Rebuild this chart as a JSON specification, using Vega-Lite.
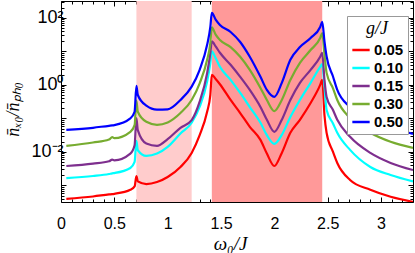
{
  "$schema": "https://vega.github.io/schema/vega-lite/v6.json",
  "width": 352,
  "height": 201,
  "autosize": "none",
  "padding": {"left": 61, "top": 1, "right": 2, "bottom": 51},
  "datasets": {
    "bands": [
      {"x0": 0.707, "x1": 1.225, "band": "light"},
      {"x0": 1.414, "x1": 2.449, "band": "dark"}
    ],
    "curves": [
      {"g":"0.05","x":0.05,"y":0.000398},{"g":"0.05","x":0.3,"y":0.000468},{"g":"0.05","x":0.45,"y":0.000537},{"g":"0.05","x":0.48,"y":0.00055},{"g":"0.05","x":0.5,"y":0.000562},{"g":"0.05","x":0.65,"y":0.000741},{"g":"0.05","x":0.69,"y":0.000933},{"g":"0.05","x":0.707,"y":0.00191},{"g":"0.05","x":0.72,"y":0.00132},{"g":"0.05","x":0.8,"y":0.0011},{"g":"0.05","x":0.9,"y":0.00126},{"g":"0.05","x":1.0,"y":0.00178},{"g":"0.05","x":1.12,"y":0.00355},{"g":"0.05","x":1.225,"y":0.00933},{"g":"0.05","x":1.3,"y":0.0316},{"g":"0.05","x":1.37,"y":0.158},{"g":"0.05","x":1.4,"y":0.501},{"g":"0.05","x":1.414,"y":2.0},{"g":"0.05","x":1.45,"y":1.51},{"g":"0.05","x":1.49,"y":1.05},{"g":"0.05","x":1.59,"y":0.355},{"g":"0.05","x":1.68,"y":0.145},{"g":"0.05","x":1.77,"y":0.0562},{"g":"0.05","x":1.87,"y":0.0229},{"g":"0.05","x":1.93,"y":0.00891},{"g":"0.05","x":2.0,"y":0.0038},{"g":"0.05","x":2.07,"y":0.00933},{"g":"0.05","x":2.15,"y":0.0372},{"g":"0.05","x":2.24,"y":0.0912},{"g":"0.05","x":2.34,"y":0.288},{"g":"0.05","x":2.43,"y":1.0},{"g":"0.05","x":2.449,"y":1.41},{"g":"0.05","x":2.47,"y":0.126},{"g":"0.05","x":2.49,"y":0.0372},{"g":"0.05","x":2.55,"y":0.01},{"g":"0.05","x":2.59,"y":0.00468},{"g":"0.05","x":2.71,"y":0.00145},{"g":"0.05","x":2.9,"y":0.000741},{"g":"0.05","x":3.09,"y":0.000457},{"g":"0.05","x":3.3,"y":0.000324},
      {"g":"0.10","x":0.05,"y":0.00166},{"g":"0.10","x":0.3,"y":0.00191},{"g":"0.10","x":0.45,"y":0.00219},{"g":"0.10","x":0.48,"y":0.00229},{"g":"0.10","x":0.5,"y":0.00234},{"g":"0.10","x":0.65,"y":0.00331},{"g":"0.10","x":0.69,"y":0.00501},{"g":"0.10","x":0.707,"y":0.0214},{"g":"0.10","x":0.72,"y":0.0112},{"g":"0.10","x":0.8,"y":0.00759},{"g":"0.10","x":0.9,"y":0.00891},{"g":"0.10","x":1.0,"y":0.0141},{"g":"0.10","x":1.12,"y":0.0355},{"g":"0.10","x":1.225,"y":0.0741},{"g":"0.10","x":1.3,"y":0.224},{"g":"0.10","x":1.37,"y":1.26},{"g":"0.10","x":1.4,"y":4.47},{"g":"0.10","x":1.414,"y":10.0},{"g":"0.10","x":1.45,"y":6.31},{"g":"0.10","x":1.49,"y":3.47},{"g":"0.10","x":1.59,"y":1.41},{"g":"0.10","x":1.68,"y":0.575},{"g":"0.10","x":1.77,"y":0.219},{"g":"0.10","x":1.87,"y":0.0741},{"g":"0.10","x":1.93,"y":0.0316},{"g":"0.10","x":2.0,"y":0.0174},{"g":"0.10","x":2.07,"y":0.0324},{"g":"0.10","x":2.15,"y":0.11},{"g":"0.10","x":2.24,"y":0.355},{"g":"0.10","x":2.34,"y":1.15},{"g":"0.10","x":2.43,"y":3.47},{"g":"0.10","x":2.449,"y":4.17},{"g":"0.10","x":2.47,"y":0.891},{"g":"0.10","x":2.49,"y":0.178},{"g":"0.10","x":2.55,"y":0.0708},{"g":"0.10","x":2.59,"y":0.0372},{"g":"0.10","x":2.71,"y":0.0115},{"g":"0.10","x":2.9,"y":0.00355},{"g":"0.10","x":3.09,"y":0.00204},{"g":"0.10","x":3.3,"y":0.00132},
      {"g":"0.15","x":0.05,"y":0.0038},{"g":"0.15","x":0.3,"y":0.00447},{"g":"0.15","x":0.45,"y":0.00525},{"g":"0.15","x":0.48,"y":0.00589},{"g":"0.15","x":0.5,"y":0.00562},{"g":"0.15","x":0.65,"y":0.00891},{"g":"0.15","x":0.69,"y":0.0158},{"g":"0.15","x":0.707,"y":0.102},{"g":"0.15","x":0.72,"y":0.0447},{"g":"0.15","x":0.8,"y":0.0178},{"g":"0.15","x":0.9,"y":0.0151},{"g":"0.15","x":1.0,"y":0.024},{"g":"0.15","x":1.12,"y":0.0525},{"g":"0.15","x":1.225,"y":0.0891},{"g":"0.15","x":1.3,"y":0.316},{"g":"0.15","x":1.37,"y":2.24},{"g":"0.15","x":1.4,"y":8.91},{"g":"0.15","x":1.414,"y":20.0},{"g":"0.15","x":1.45,"y":14.1},{"g":"0.15","x":1.49,"y":9.12},{"g":"0.15","x":1.59,"y":3.98},{"g":"0.15","x":1.68,"y":1.74},{"g":"0.15","x":1.77,"y":0.708},{"g":"0.15","x":1.87,"y":0.219},{"g":"0.15","x":1.93,"y":0.0912},{"g":"0.15","x":2.0,"y":0.0398},{"g":"0.15","x":2.07,"y":0.0912},{"g":"0.15","x":2.15,"y":0.355},{"g":"0.15","x":2.24,"y":1.15},{"g":"0.15","x":2.34,"y":2.82},{"g":"0.15","x":2.43,"y":6.92},{"g":"0.15","x":2.449,"y":9.12},{"g":"0.15","x":2.47,"y":1.41},{"g":"0.15","x":2.49,"y":0.437},{"g":"0.15","x":2.55,"y":0.178},{"g":"0.15","x":2.59,"y":0.0912},{"g":"0.15","x":2.71,"y":0.0282},{"g":"0.15","x":2.9,"y":0.00933},{"g":"0.15","x":3.09,"y":0.00468},{"g":"0.15","x":3.3,"y":0.00288},
      {"g":"0.30","x":0.05,"y":0.0151},{"g":"0.30","x":0.3,"y":0.0191},{"g":"0.30","x":0.45,"y":0.0234},{"g":"0.30","x":0.48,"y":0.0275},{"g":"0.30","x":0.5,"y":0.0257},{"g":"0.30","x":0.65,"y":0.0398},{"g":"0.30","x":0.69,"y":0.0631},{"g":"0.30","x":0.707,"y":0.339},{"g":"0.30","x":0.72,"y":0.158},{"g":"0.30","x":0.8,"y":0.0794},{"g":"0.30","x":0.9,"y":0.0646},{"g":"0.30","x":1.0,"y":0.0759},{"g":"0.30","x":1.12,"y":0.145},{"g":"0.30","x":1.225,"y":0.355},{"g":"0.30","x":1.3,"y":1.12},{"g":"0.30","x":1.37,"y":5.62},{"g":"0.30","x":1.4,"y":17.8},{"g":"0.30","x":1.414,"y":52.5},{"g":"0.30","x":1.45,"y":31.6},{"g":"0.30","x":1.49,"y":21.9},{"g":"0.30","x":1.59,"y":13.5},{"g":"0.30","x":1.68,"y":6.92},{"g":"0.30","x":1.77,"y":2.82},{"g":"0.30","x":1.87,"y":0.813},{"g":"0.30","x":1.93,"y":0.355},{"g":"0.30","x":2.0,"y":0.166},{"g":"0.30","x":2.07,"y":0.355},{"g":"0.30","x":2.15,"y":1.41},{"g":"0.30","x":2.24,"y":4.57},{"g":"0.30","x":2.34,"y":11.0},{"g":"0.30","x":2.43,"y":25.1},{"g":"0.30","x":2.449,"y":35.5},{"g":"0.30","x":2.47,"y":7.94},{"g":"0.30","x":2.49,"y":2.29},{"g":"0.30","x":2.55,"y":0.794},{"g":"0.30","x":2.59,"y":0.355},{"g":"0.30","x":2.71,"y":0.102},{"g":"0.30","x":2.9,"y":0.0372},{"g":"0.30","x":3.09,"y":0.02},{"g":"0.30","x":3.3,"y":0.0132},
      {"g":"0.50","x":0.05,"y":0.0457},{"g":"0.50","x":0.3,"y":0.0525},{"g":"0.50","x":0.45,"y":0.0603},{"g":"0.50","x":0.48,"y":0.0617},{"g":"0.50","x":0.5,"y":0.0631},{"g":"0.50","x":0.65,"y":0.1},{"g":"0.50","x":0.69,"y":0.158},{"g":"0.50","x":0.707,"y":0.933},{"g":"0.50","x":0.72,"y":0.501},{"g":"0.50","x":0.8,"y":0.24},{"g":"0.50","x":0.9,"y":0.182},{"g":"0.50","x":1.0,"y":0.186},{"g":"0.50","x":1.12,"y":0.355},{"g":"0.50","x":1.225,"y":0.891},{"g":"0.50","x":1.3,"y":2.82},{"g":"0.50","x":1.37,"y":15.8},{"g":"0.50","x":1.4,"y":53.7},{"g":"0.50","x":1.414,"y":141},{"g":"0.50","x":1.45,"y":89.1},{"g":"0.50","x":1.49,"y":61.7},{"g":"0.50","x":1.59,"y":38.0},{"g":"0.50","x":1.68,"y":19.1},{"g":"0.50","x":1.77,"y":6.92},{"g":"0.50","x":1.87,"y":1.74},{"g":"0.50","x":1.93,"y":0.708},{"g":"0.50","x":2.0,"y":0.437},{"g":"0.50","x":2.07,"y":1.15},{"g":"0.50","x":2.15,"y":5.62},{"g":"0.50","x":2.24,"y":13.5},{"g":"0.50","x":2.34,"y":25.1},{"g":"0.50","x":2.43,"y":53.7},{"g":"0.50","x":2.449,"y":75.9},{"g":"0.50","x":2.47,"y":20.0},{"g":"0.50","x":2.49,"y":7.08},{"g":"0.50","x":2.55,"y":1.78},{"g":"0.50","x":2.59,"y":0.708},{"g":"0.50","x":2.71,"y":0.219},{"g":"0.50","x":2.9,"y":0.0912},{"g":"0.50","x":3.09,"y":0.0525},{"g":"0.50","x":3.3,"y":0.0347}
    ]
  },
  "config": {
    "view": {"stroke": null},
    "axis": {
      "domainColor": "black",
      "domainWidth": 1,
      "tickColor": "black",
      "tickWidth": 1,
      "labelColor": "black",
      "labelFont": "Liberation Sans",
      "labelFontSize": 16,
      "grid": false,
      "titleColor": "black",
      "labelOverlap": false,
      "labelFlush": false
    }
  },
  "layer": [
    {
      "data": {"name": "bands"},
      "mark": {"type": "rect"},
      "encoding": {
        "x": {
          "field": "x0", "type": "quantitative",
          "scale": {"domain": [0, 3.3], "nice": false, "zero": false},
          "axis": {
            "orient": "top", "labels": false, "title": null,
            "values": [0,0.1,0.2,0.3,0.4,0.5,0.6,0.7,0.8,0.9,1,1.1,1.2,1.3,1.4,1.5,1.6,1.7,1.8,1.9,2,2.1,2.2,2.3,2.4,2.5,2.6,2.7,2.8,2.9,3,3.1,3.2,3.3],
            "tickSize": {"condition": {"test": "abs(datum.value*2 - round(datum.value*2)) < 0.001", "value": -5}, "value": -3}
          }
        },
        "x2": {"field": "x1"},
        "fill": {"field": "band", "type": "nominal", "scale": {"domain": ["light", "dark"], "range": ["#FFCCCC", "#FF9999"]}, "legend": null}
      }
    },
    {
      "data": {"name": "curves"},
      "mark": {"type": "line", "strokeWidth": 2.2, "clip": true, "interpolate": "monotone"},
      "encoding": {
        "x": {
          "field": "x", "type": "quantitative",
          "scale": {"domain": [0, 3.3], "nice": false, "zero": false},
          "axis": {
            "orient": "bottom",
            "values": [0,0.1,0.2,0.3,0.4,0.5,0.6,0.7,0.8,0.9,1,1.1,1.2,1.3,1.4,1.5,1.6,1.7,1.8,1.9,2,2.1,2.2,2.3,2.4,2.5,2.6,2.7,2.8,2.9,3,3.1,3.2,3.3],
            "labelExpr": "abs(datum.value*2 - round(datum.value*2)) < 0.001 ? format(datum.value, '~g') : ''",
            "tickSize": {"condition": {"test": "abs(datum.value*2 - round(datum.value*2)) < 0.001", "value": -5}, "value": -3},
            "labelPadding": 18,
            "labelFontSize": 16,
            "title": "ω₀/J",
            "titleFont": "Liberation Serif",
            "titleFontStyle": "italic",
            "titleFontWeight": "normal",
            "titleFontSize": 19,
            "titleX": 169,
            "titleY": 41,
            "titleBaseline": "middle",
            "titleAlign": "center"
          }
        },
        "y": {
          "field": "y", "type": "quantitative",
          "scale": {"type": "log", "domain": [0.00032, 320], "nice": false},
          "axis": {
            "orient": "left",
            "values": [0.0004,0.0005,0.0006,0.0007,0.0008,0.0009,0.001,0.002,0.003,0.004,0.005,0.006,0.007,0.008,0.009,0.01,0.02,0.03,0.04,0.05,0.06,0.07,0.08,0.09,0.1,0.2,0.3,0.4,0.5,0.6,0.7,0.8,0.9,1,2,3,4,5,6,7,8,9,10,20,30,40,50,60,70,80,90,100,200,300],
            "labelExpr": "datum.value == 100 ? '10²' : datum.value == 1 ? '10⁰' : datum.value == 0.01 ? '10⁻²' : ''",
            "tickSize": {"condition": {"test": "abs(log(datum.value)/log(10) - round(log(datum.value)/log(10))) < 0.001", "value": -5}, "value": -3},
            "labelPadding": 3,
            "labelFontSize": 18,
            "title": "n̄ₓ₀/n̄ₚₕ₀",
            "titleFont": "Liberation Serif",
            "titleFontStyle": "italic",
            "titleFontWeight": "normal",
            "titleFontSize": 18,
            "titleX": -48,
            "titleY": 108,
            "titleBaseline": "middle",
            "titleAlign": "center"
          }
        },
        "color": {
          "field": "g", "type": "nominal",
          "scale": {"domain": ["0.05", "0.10", "0.15", "0.30", "0.50"], "range": ["#FF0000", "#00FFFF", "#7E2F8E", "#77AC30", "#0000FF"]},
          "legend": {
            "orient": "none", "legendX": 286, "legendY": 15,
            "title": "g/J",
            "titleFont": "Liberation Serif", "titleFontStyle": "italic", "titleFontWeight": "normal", "titleFontSize": 18,
            "titleAnchor": "middle", "titlePadding": 2, "titleColor": "black",
            "labelFont": "Liberation Sans", "labelFontWeight": "bold", "labelFontSize": 15, "labelColor": "black",
            "labelOffset": 3,
            "symbolType": "stroke", "symbolSize": 300, "symbolStrokeWidth": 2.5,
            "padding": 4, "rowPadding": 0,
            "strokeColor": "#999999", "fillColor": "white"
          }
        }
      }
    },
    {
      "data": {"name": "curves"},
      "mark": {"type": "point", "opacity": 0},
      "encoding": {
        "x": {"field": "x", "type": "quantitative", "scale": {"domain": [0, 3.3], "nice": false, "zero": false}, "axis": null},
        "y": {
          "field": "y", "type": "quantitative",
          "scale": {"type": "log", "domain": [0.00032, 320], "nice": false},
          "axis": {
            "orient": "right", "labels": false, "title": null,
            "values": [0.0004,0.0005,0.0006,0.0007,0.0008,0.0009,0.001,0.002,0.003,0.004,0.005,0.006,0.007,0.008,0.009,0.01,0.02,0.03,0.04,0.05,0.06,0.07,0.08,0.09,0.1,0.2,0.3,0.4,0.5,0.6,0.7,0.8,0.9,1,2,3,4,5,6,7,8,9,10,20,30,40,50,60,70,80,90,100,200,300],
            "tickSize": {"condition": {"test": "abs(log(datum.value)/log(10) - round(log(datum.value)/log(10))) < 0.001", "value": -5}, "value": -3}
          }
        }
      }
    }
  ],
  "resolve": {"axis": {"x": "independent", "y": "independent"}}
}
